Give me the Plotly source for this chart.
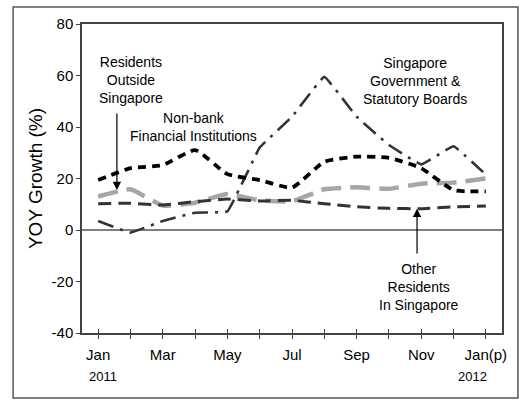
import plotly.graph_objects as go

months = ["Jan", "Feb", "Mar", "Apr", "May", "Jun", "Jul", "Aug", "Sep", "Oct", "Nov", "Dec", "Jan(p)"]
tick_labels = ["Jan", "", "Mar", "", "May", "", "Jul", "", "Sep", "", "Nov", "", "Jan(p)"]
years = ["2011", "2012"]
y_ticks = [-40, -20, 0, 20, 40, 60, 80]
y_tick_labels = ["-40", "-20", "0", "20", "40", "60", "80"]

non_bank = [19.4, 24, 25.2, 31, 21.7, 19.4, 16.5, 26.5, 28.5, 28, 24, 15.5, 15]
government = [3.5, -1, 3.5, 6.7, 7.2, 32, 44, 59.5, 44, 33, 25.5, 32.5, 21.5]
other_residents = [10.2, 10.4, 9.7, 11, 12, 11.3, 11.5, 10.2, 9, 8.4, 8.3, 9, 9.3]
residents_outside = [13, 15.8, 9.5, 10.6, 14, 11.5, 11.2, 15.8, 16.6, 16, 18, 18.4, 20]

x = list(range(len(months)))

fig = go.Figure()
fig.add_trace(go.Scatter(x=x, y=residents_outside, mode="lines", name="Residents Outside Singapore",
                         line=dict(color="#a6a6a6", width=4.5, dash="20px,9px", shape="spline", smoothing=0.4)))
fig.add_trace(go.Scatter(x=x, y=other_residents, mode="lines", name="Other Residents In Singapore",
                         line=dict(color="#333333", width=3, dash="13px,7px", shape="spline", smoothing=0.4)))
fig.add_trace(go.Scatter(x=x, y=government, mode="lines", name="Singapore Government & Statutory Boards",
                         line=dict(color="#333333", width=2.6, dash="16px,7px,3px,7px", shape="spline", smoothing=0.2)))
fig.add_trace(go.Scatter(x=x, y=non_bank, mode="lines", name="Non-bank Financial Institutions",
                         line=dict(color="#000000", width=3.8, dash="8px,6px", shape="spline", smoothing=0.5)))
# invisible trace so that the overlay axis (inside tick halves) is drawn
fig.add_trace(go.Scatter(x=[x[0]], y=[0], xaxis="x2", mode="markers", marker=dict(opacity=0),
                         hoverinfo="skip", showlegend=False))

font = "Liberation Sans, Arial, sans-serif"
annotations = [
    dict(x=1.01, y=58.3, text="Residents<br>Outside<br>Singapore", showarrow=False, font=dict(size=14)),
    dict(x=2.95, y=40, text="Non-bank<br>Financial Institutions", showarrow=False, font=dict(size=14)),
    dict(x=9.8, y=57.9, text="Singapore<br>Government &<br>Statutory Boards", showarrow=False, font=dict(size=14)),
    dict(x=9.92, y=-22.1, text="Other<br>Residents<br>In Singapore", showarrow=False, font=dict(size=14)),
    dict(x=0.58, y=15.5, ax=0.58, ay=45.8, axref="x", ayref="y", text="", showarrow=True,
         arrowhead=2, arrowsize=1.4, arrowwidth=1.2, arrowcolor="#000000"),
    dict(x=9.87, y=8.3, ax=9.87, ay=-9.7, axref="x", ayref="y", text="", showarrow=True,
         arrowhead=2, arrowsize=1.4, arrowwidth=1.2, arrowcolor="#000000"),
    dict(x=0.15, y=-0.17, yref="paper", text=years[0], showarrow=False, font=dict(size=13)),
    dict(x=11.6, y=-0.17, yref="paper", text=years[1], showarrow=False, font=dict(size=13)),
]

fig.update_layout(
    width=519, height=400,
    margin=dict(l=82, r=17, t=24, b=67),
    paper_bgcolor="white", plot_bgcolor="white",
    showlegend=False,
    font=dict(family=font, color="#000000", size=14),
    annotations=annotations,
    shapes=[dict(type="rect", xref="paper", yref="paper", x0=-0.164, x1=1.038, y0=-0.21, y1=1.055,
                 line=dict(color="#555555", width=1.5))],
    xaxis=dict(range=[-0.5, 12.5], tickmode="array", tickvals=x, ticktext=tick_labels,
               ticks="outside", ticklen=4, tickcolor="#444444", showgrid=False, zeroline=False,
               showline=True, linecolor="#444444", linewidth=1.5, mirror=True,
               tickfont=dict(size=15), ticklabelstandoff=3, automargin=False),
    xaxis2=dict(overlaying="x", range=[-0.5, 12.5], tickmode="array", tickvals=x,
                ticktext=[""] * len(x), ticks="inside", ticklen=4, tickcolor="#444444",
                showgrid=False, zeroline=False, showline=False, side="bottom"),
    yaxis=dict(range=[-40, 80], tickmode="array", tickvals=y_ticks, ticktext=y_tick_labels,
               ticks="outside", ticklen=4, tickcolor="#444444", showgrid=False,
               zeroline=True, zerolinecolor="#808080", zerolinewidth=1.5,
               showline=True, linecolor="#444444", linewidth=1.5, mirror=True,
               tickfont=dict(size=15), automargin=False,
               title=dict(text="YOY Growth (%)", font=dict(size=19), standoff=4)),
)

fig.write_html("out.html", config={"displayModeBar": False},
               post_script="document.body.style.margin='0';")
